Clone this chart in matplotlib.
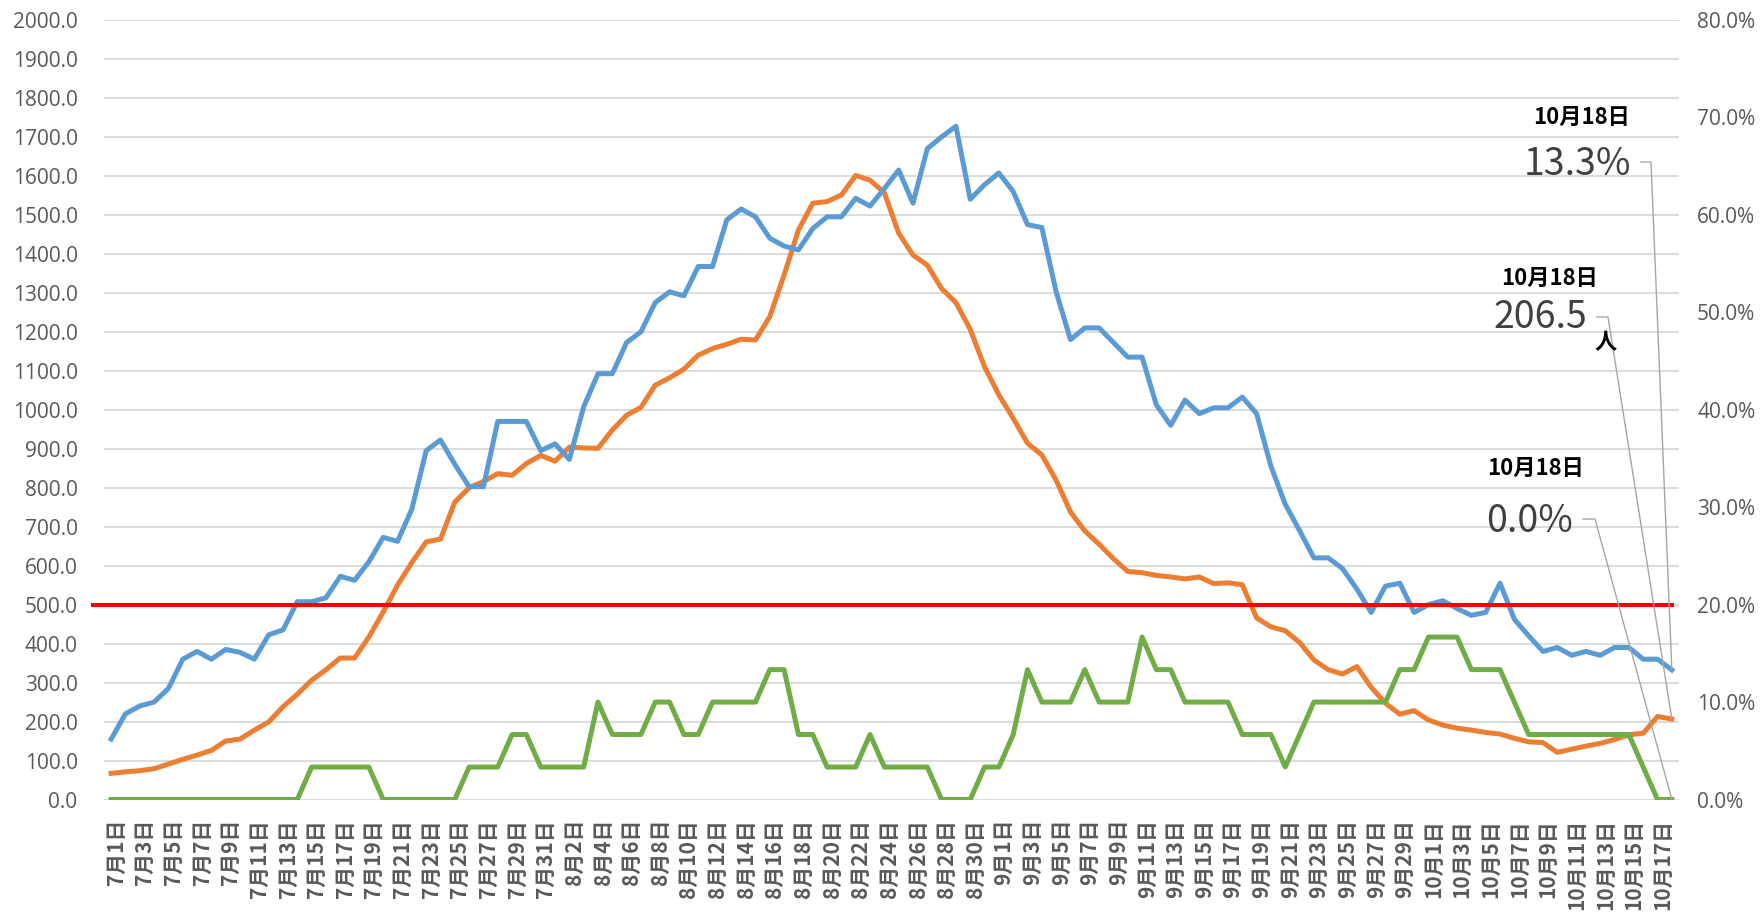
import pandas as pd
import matplotlib
matplotlib.use("Agg")
import matplotlib.pyplot as plt
import matplotlib.transforms as mtransforms
from matplotlib.ticker import PercentFormatter, FormatStrFormatter

# 7月1日 - 10月18日 (daily)
dates = pd.date_range("2021-07-01", "2021-10-18", freq="D")
day_labels = [f"{d.month}月{d.day}日" for d in dates]

# blue: 陽性率 (%), right axis
positive_rate = [
    6.2, 8.8, 9.6, 10.0, 11.4, 14.4, 15.2, 14.4, 15.4, 15.1,
    14.4, 16.9, 17.4, 20.3, 20.3, 20.7, 22.9, 22.5, 24.4, 26.9,
    26.5, 29.8, 35.8, 36.9, 34.4, 32.1, 32.1, 38.8, 38.8, 38.8,
    35.8, 36.5, 34.9, 40.3, 43.7, 43.7, 46.9, 48.0, 51.0, 52.1,
    51.7, 54.7, 54.7, 59.5, 60.6, 59.8, 57.6, 56.8, 56.4, 58.6,
    59.8, 59.8, 61.7, 60.9, 62.7, 64.6, 61.2, 66.8, 68.0, 69.1,
    61.6, 63.1, 64.3, 62.4, 59.0, 58.7, 52.1, 47.2, 48.4, 48.4,
    46.9, 45.4, 45.4, 40.5, 38.4, 41.0, 39.6, 40.2, 40.2, 41.3,
    39.6, 34.2, 30.3, 27.6, 24.8, 24.8, 23.7, 21.6, 19.2, 21.9,
    22.2, 19.2, 20.0, 20.4, 19.6, 18.9, 19.2, 22.2, 18.5, 16.8,
    15.2, 15.6, 14.8, 15.2, 14.8, 15.6, 15.6, 14.4, 14.4, 13.3,
]

# orange: 人数, left axis
persons = [
    67, 71, 74, 79, 91, 103, 114, 126, 150, 155,
    178, 199, 238, 270, 306, 333, 363, 363, 417, 481,
    550, 608, 661, 668, 763, 800, 816, 836, 832, 862,
    883, 868, 904, 902, 901, 948, 986, 1006, 1063, 1082,
    1104, 1140, 1157, 1168, 1181, 1179, 1239, 1346, 1461, 1530,
    1534, 1551, 1601, 1589, 1557, 1453, 1397, 1371, 1311, 1275,
    1206, 1110, 1038, 978, 914, 884, 819, 738, 689, 655,
    618, 585, 582, 575, 571, 566, 571, 554, 556, 551,
    466, 443, 433, 403, 358, 333, 322, 341, 288, 247,
    219, 228, 204, 191, 183, 178, 172, 168, 157, 148,
    146, 121, 129, 137, 144, 154, 166, 170, 213, 206.5,
]

# green: (%), right axis
green_rate = [
    0, 0, 0, 0, 0, 0, 0, 0, 0, 0,
    0, 0, 0, 0, 3.33, 3.33, 3.33, 3.33, 3.33, 0,
    0, 0, 0, 0, 0, 3.33, 3.33, 3.33, 6.67, 6.67,
    3.33, 3.33, 3.33, 3.33, 10.0, 6.67, 6.67, 6.67, 10.0, 10.0,
    6.67, 6.67, 10.0, 10.0, 10.0, 10.0, 13.33, 13.33, 6.67, 6.67,
    3.33, 3.33, 3.33, 6.67, 3.33, 3.33, 3.33, 3.33, 0, 0,
    0, 3.33, 3.33, 6.67, 13.33, 10.0, 10.0, 10.0, 13.33, 10.0,
    10.0, 10.0, 16.67, 13.33, 13.33, 10.0, 10.0, 10.0, 10.0, 6.67,
    6.67, 6.67, 3.33, 6.67, 10.0, 10.0, 10.0, 10.0, 10.0, 10.0,
    13.33, 13.33, 16.67, 16.67, 16.67, 13.33, 13.33, 13.33, 10.0, 6.67,
    6.67, 6.67, 6.67, 6.67, 6.67, 6.67, 6.67, 3.33, 0, 0,
]

threshold = 500

x = list(range(len(day_labels)))

fig = plt.figure(figsize=(17.63, 9.13), dpi=100)
ax = fig.add_axes([104 / 1763, 1 - 799.5 / 913, (1679 - 104) / 1763, (799.5 - 20) / 913])
ax2 = ax.twinx()

gray_txt = "#595959"

ax.plot(x, persons, color="#ED7D31", lw=3.6, solid_joinstyle="round")
ax2.plot(x, positive_rate, color="#5B9BD5", lw=3.6, solid_joinstyle="round")
ax2.plot(x, green_rate, color="#70AD47", lw=3.6, solid_joinstyle="round")
# red threshold line, drawn on top
ax2.plot([-1.27, x[-1]], [threshold, threshold], color="#FF0000", lw=2.9,
         transform=ax.transData, clip_on=False)

ax.set_xlim(-0.5, len(x) - 0.5)
ax.set_ylim(0, 2000)
ax2.set_ylim(0, 80)
ax.set_yticks(range(0, 2001, 100))
ax2.set_yticks(range(0, 81, 10))
ax.yaxis.set_major_formatter(FormatStrFormatter("%.1f"))
ax2.yaxis.set_major_formatter(PercentFormatter(xmax=100, decimals=1))

ax.grid(axis="y", color="#D9D9D9", lw=1.3)
ax.set_axisbelow(True)
for a in (ax, ax2):
    for s in a.spines.values():
        s.set_visible(False)

ax.tick_params(axis="y", length=0, pad=19, labelsize=15, labelcolor=gray_txt)
ax2.tick_params(axis="y", length=0, pad=13, labelsize=15, labelcolor=gray_txt)
for lab in ax.get_yticklabels() + ax2.get_yticklabels():
    lab.set_family("Open Sans")

ax.set_xticks(x[::2])
ax.set_xticklabels(day_labels[::2], rotation=90, va="top", ha="center",
                   fontsize=15, fontweight="bold", color=gray_txt,
                   family=["Noto Sans CJK JP", "DejaVu Sans"])
ax.tick_params(axis="x", length=0, pad=14)
offset = mtransforms.ScaledTranslation(5 / 100, 0, fig.dpi_scale_trans)
for lab in ax.get_xticklabels():
    lab.set_transform(lab.get_transform() + offset)

# annotations for 10月18日
H = 913
cjk = ["Noto Sans CJK JP", "DejaVu Sans"]
narrow = ["Liberation Sans Narrow", "Noto Sans CJK JP", "DejaVu Sans"]
last = x[-1]
notes = [
    # (header center x, header y, value text, value right x, baseline y, elbow y, elbow x0, x1, point)
    (1582, 117, "13.3%", 1631, 175, 162, 1641, 1651, ax2.transData.transform((last, positive_rate[-1]))),
    (1550, 278, "206.5", 1587, 328, 317, 1597, 1608, ax.transData.transform((last, persons[-1]))),
    (1536, 468, "0.0%", 1573, 532, 519, 1583, 1595, ax2.transData.transform((last, green_rate[-1]))),
]
for hx, hy, val, vx, vy, ey, ex0, ex1, pt in notes:
    fig.text(hx, H - hy, "10月18日", transform=None, ha="center", va="center",
             fontsize=16, fontweight="bold", color="black", family=cjk)
    fig.text(vx, H - vy, val, transform=None, ha="right", va="baseline",
             fontsize=27, color="#404040", family=narrow)
    fig.add_artist(plt.Line2D([ex0, ex1, pt[0]], [H - ey, H - ey, pt[1]],
                              transform=None, color="#A6A6A6", lw=1.0))
fig.text(1606, H - 343, "人", transform=None, ha="center", va="center",
         fontsize=16, fontweight="bold", color="black", family=cjk)

fig.savefig("out.png", dpi=100)
